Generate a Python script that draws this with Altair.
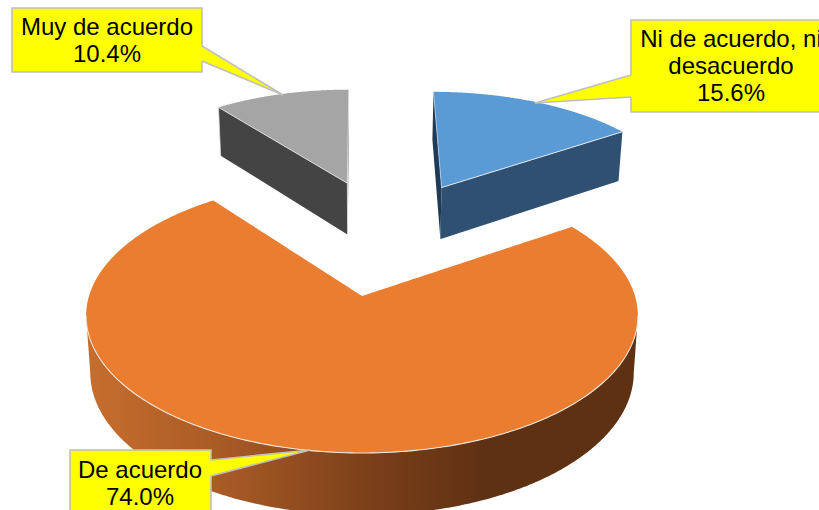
import math
import altair as alt
import pandas as pd

# Survey answers and their shares, clockwise from twelve o'clock
answers = ["Ni de acuerdo, ni desacuerdo", "De acuerdo", "Muy de acuerdo"]
shares = [15.6, 74.0, 10.4]
label_lines = [["Ni de acuerdo, ni", "desacuerdo"], ["De acuerdo"], ["Muy de acuerdo"]]

W, H = 819, 510
XS = alt.Scale(domain=[0, W], range=[0, W], nice=False, zero=False)
YS = alt.Scale(domain=[H, 0], range=[H, 0], nice=False, zero=False)

# Tilted-disc camera: a point (u, v) of the unit disc lands on the page via a
# perspective division; the underside is a slightly shrunken, shifted copy.
CX, CY, RX = 362.0, 296.0, 273.0
CAM_SLICES = (136.6, 0.13)
CAM_MAIN = (134.2, 0.145)


def top(u, v, cam=CAM_SLICES):
    ry, k = cam
    w = 1 + k * v
    return (CX + RX * u / w, CY - ry * v / w)


def under(p):
    return (CX + (p[0] - CX) * 0.985, 44 + 1.04 * p[1])


def rim(a0, a1, off=(0.0, 0.0), r=1.0, n=160, cam=CAM_SLICES):
    pts = []
    for i in range(n + 1):
        t = math.radians(a0 + (a1 - a0) * i / n)
        pts.append(top(off[0] + r * math.sin(t), off[1] + r * math.cos(t), cam))
    return pts


def slabs(poly):
    """Vertical spans of an x-monotone polygon, as x / y / y2 rows."""
    xs = sorted({round(p[0], 3) for p in poly})
    rows = []
    for x in xs:
        ys = []
        for (x0, y0), (x1, y1) in zip(poly, poly[1:] + poly[:1]):
            lo, hi = min(x0, x1), max(x0, x1)
            if lo - 1e-3 <= x <= hi + 1e-3:
                if abs(x1 - x0) < 1e-6:
                    ys += [y0, y1]
                else:
                    ys.append(y0 + (y1 - y0) * (x - x0) / (x1 - x0))
        rows.append({"x": x, "y": min(ys), "y2": max(ys)})
    return pd.DataFrame(rows)


def face(poly, fill):
    return alt.Chart(slabs(poly)).mark_area(fill=fill, clip=True).encode(
        x=alt.X("x:Q", scale=XS, axis=None),
        y=alt.Y("y:Q", scale=YS, axis=None),
        y2="y2:Q",
    )


def edge(pts, color, width):
    df = pd.DataFrame([{"x": p[0], "y": p[1], "i": i} for i, p in enumerate(pts)])
    return alt.Chart(df).mark_line(stroke=color, strokeWidth=width, clip=True).encode(
        x=alt.X("x:Q", scale=XS, axis=None),
        y=alt.Y("y:Q", scale=YS, axis=None),
        order="i:Q",
    )


def callout(box, tip, base, inner, lines, cx, first_y):
    x0, y0, x1, y1 = box
    outline = "#bfbfbf"
    pointer = [(base[0], base[1]), tip, (base[0], base[2])]
    # The yellow wedge runs slightly into the box so that the outline opens up
    wedge = [(base[0] + inner, base[1]), tip, (base[0] + inner, base[2])]
    rect = alt.Chart(pd.DataFrame([{"x": x0, "x2": x1, "y": y0, "y2": y1}])).mark_rect(
        fill="#ffff00", stroke=outline, strokeWidth=1.6, clip=True
    ).encode(
        x=alt.X("x:Q", scale=XS, axis=None), x2="x2:Q",
        y=alt.Y("y:Q", scale=YS, axis=None), y2="y2:Q",
    )
    text = alt.Chart(pd.DataFrame(
        [{"x": cx, "y": first_y + 27.2 * i, "t": s} for i, s in enumerate(lines)]
    )).mark_text(font="Liberation Sans", fontSize=24, color="#000000", align="center",
                 baseline="middle", clip=True).encode(
        x=alt.X("x:Q", scale=XS, axis=None),
        y=alt.Y("y:Q", scale=YS, axis=None),
        text="t:N",
    )
    return [rect, face(wedge, "#ffff00"),
            edge(pointer[:2], outline, 1.6), edge(pointer[1:], outline, 1.6), text]


# Slice angles follow directly from the shares
blue_end = shares[0] * 3.6
orange_end = blue_end + shares[1] * 3.6

layers = []

# Grey slice, pulled back from the centre
off_g = (-0.06, 0.925)
apex_g = top(*off_g)
arc_g = rim(orange_end, 360, off_g, r=0.955)
wall_g = [arc_g[0], apex_g, under(apex_g), under(arc_g[0])]
right_g = [arc_g[-1], apex_g, under(apex_g), under(arc_g[-1])]
layers += [face(wall_g, "#444444"), face(right_g, "#8c8c8c"),
           face(arc_g + [apex_g], "#a5a5a5"),
           edge([arc_g[0], apex_g], "#d9d9d9", 1),
           edge([arc_g[-1], apex_g], "#e6e6e6", 0.8),
           edge([apex_g, under(apex_g)], "#e6e6e6", 0.8),
           edge([arc_g[0], under(arc_g[0])], "#d9d9d9", 0.7)]

# Blue slice
off_b = (0.325, 0.885)
apex_b = top(*off_b)
arc_b = rim(0, blue_end, off_b, r=0.97)
wall_b = [arc_b[-1], apex_b, under(apex_b), under(arc_b[-1])]
left_b = [arc_b[0], apex_b, under(apex_b), under(arc_b[0])]
layers += [face(left_b, "#1f3a55"), face(wall_b, "#2f5071"),
           face([apex_b] + arc_b, "#5b9bd5"),
           edge([arc_b[-1], apex_b], "#dfe8f0", 1),
           edge([arc_b[0], apex_b], "#c5d5e5", 0.7)]

# Orange slice: gradient side wall, then the top with its notch
side_grad = alt.LinearGradient(
    gradient="linear", x1=0, x2=1, y1=0, y2=0,
    stops=[
        alt.GradientStop(color="#c76e2e", offset=0.0),
        alt.GradientStop(color="#a85a25", offset=0.25),
        alt.GradientStop(color="#7a3f19", offset=0.52),
        alt.GradientStop(color="#5f3113", offset=0.72),
        alt.GradientStop(color="#5f3113", offset=1.0),
    ],
)
front = rim(98.3, 261.7, cam=CAM_MAIN)
wall_o = front + [under(p) for p in reversed(front)]
arc_o = rim(blue_end, orange_end, n=360, cam=CAM_MAIN)
layers += [face(wall_o, side_grad),
           face(arc_o + [top(0, 0, CAM_MAIN)], "#eb7d31"),
           edge(front, "#efe6dd", 1.1)]

# Callouts
pct = [f"{s:.1f}%" for s in shares]
layers += callout((631, 20, 830, 112), (535, 103), (631, 75, 97), 1.5,
                  label_lines[0] + [pct[0]], 731, 40)
layers += callout((70, 450, 211, 525), (310, 450), (211, 460, 476), -1.5,
                  label_lines[1] + [pct[1]], 140, 471)
layers += callout((12, 8, 202, 72), (283, 95), (202, 46, 61), -1.5,
                  label_lines[2] + [pct[2]], 107, 28)

chart = alt.layer(*layers).properties(
    width=W, height=H, padding=0, background="#ffffff",
    autosize=alt.AutoSizeParams(type="none"),
).configure_view(stroke=None)

chart.save("out.html", embed_options={"renderer": "svg", "actions": False})
